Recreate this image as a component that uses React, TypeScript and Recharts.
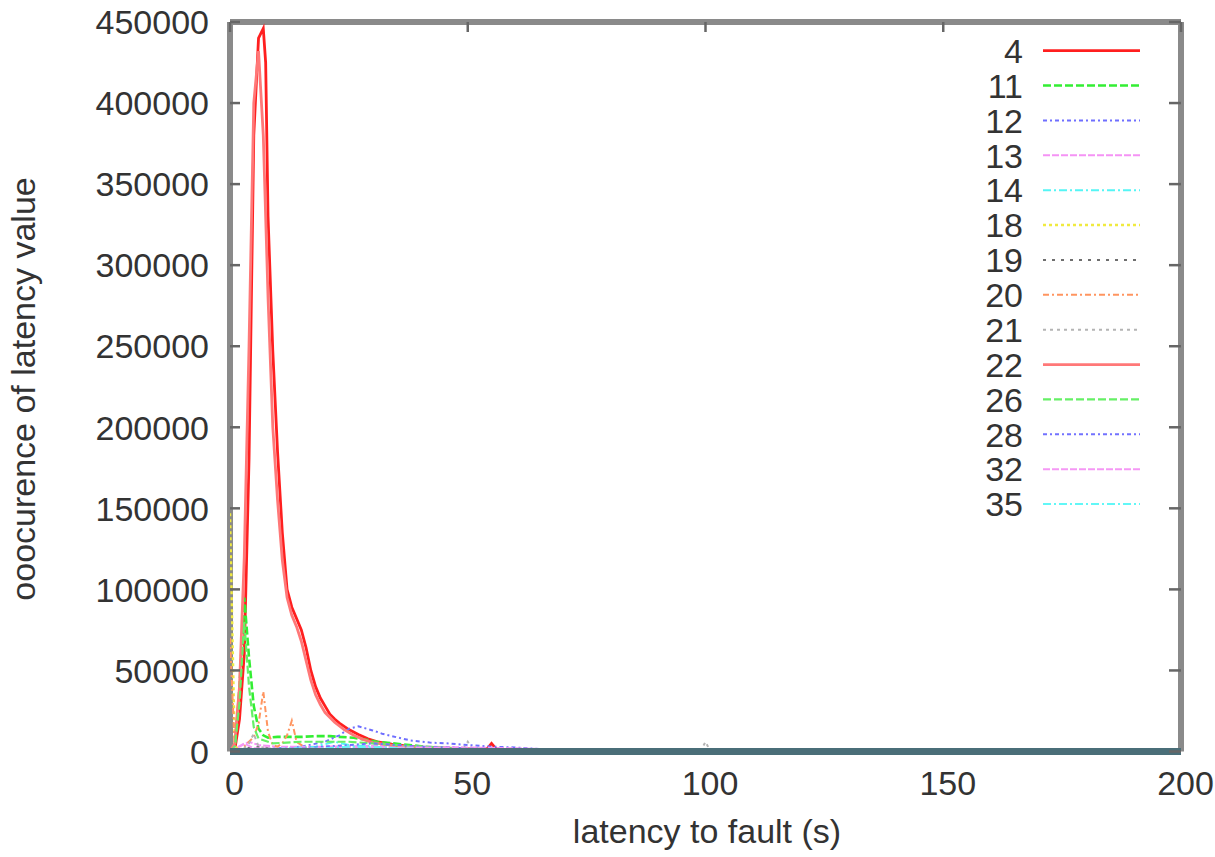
import { LineChart, Line, XAxis, YAxis, ReferenceLine } from 'recharts';

// latency (s) -> occurrence
const lat4: [number, number][] = [
  [0, 0], [1, 1000], [2, 20000], [3, 60000], [4, 180000], [5, 380000], [6, 440000], [7, 446000],
  [7.5, 425000], [8, 330000], [9, 247000], [10, 185000], [11, 135000], [12, 100000], [13, 89000],
  [14, 82000], [15, 75000], [16, 64000], [17, 50000], [18, 40000], [19, 33000], [20, 28000],
  [21, 23000], [22, 20000], [23, 17500], [25, 13500], [27, 10500], [29, 7800], [31, 6000],
  [34, 4500], [37, 3500], [41, 2500], [46, 2000], [51, 1500], [54, 1500], [55, 5000], [56, 1500],
  [60, 1000], [70, 500], [80, 200], [100, 100], [200, 0],
];
const lat11: [number, number][] = [
  [0, 0], [1, 1000], [2, 40000], [3, 95000], [4, 58000], [5, 28000], [6, 14000], [7, 10000],
  [8, 8500], [10, 9000], [12, 9000], [15, 9000], [18, 9500], [21, 9500], [23, 9000], [26, 8500],
  [29, 7000], [31, 6000], [36, 4500], [41, 3000], [46, 2000], [51, 1500], [60, 800], [70, 300],
  [80, 100], [200, 0],
];
const lat12: [number, number][] = [
  [0, 0], [5, 1000], [10, 2000], [15, 3000], [20, 6000], [23, 10000], [25, 14000], [27, 15500],
  [30, 13000], [32, 11000], [35, 8800], [38, 6800], [42, 5500], [46, 5000], [50, 4000],
  [55, 3000], [60, 2500], [65, 1500], [70, 800], [75, 300], [200, 0],
];
const lat13: [number, number][] = [
  [0, 0], [2, 3000], [4, 6000], [6, 4000], [10, 3000], [20, 3000], [30, 3500], [40, 3000],
  [50, 2500], [60, 2000], [65, 1500], [70, 500], [200, 0],
];
const lat14: [number, number][] = [
  [0, 0], [5, 1000], [10, 1500], [18, 3000], [22, 6000], [25, 4000], [30, 3000], [40, 2000],
  [50, 1000], [60, 500], [200, 0],
];
const lat18: [number, number][] = [
  [0, 147000], [1, 3000], [2, 1500], [5, 1000], [10, 800], [20, 600], [40, 400], [60, 200], [200, 0],
];
const lat19: [number, number][] = [
  [0, 0], [2, 1000], [5, 3000], [10, 1500], [20, 1000], [40, 800], [60, 300], [200, 0],
];
const lat20: [number, number][] = [
  [0, 70000], [1, 2000], [2, 1000], [3, 3000], [4, 6000], [5, 9000], [6, 17000], [7, 37000],
  [8, 12000], [9, 4000], [10, 3000], [11, 5000], [12, 10000], [13, 19000], [14, 6000], [16, 2000],
  [20, 1500], [30, 1000], [40, 800], [50, 500], [60, 200], [200, 0],
];
const lat21: [number, number][] = [
  [0, 0], [3, 2000], [4, 5000], [5, 11000], [6, 3000], [8, 2000], [10, 1000], [20, 1500],
  [30, 1500], [40, 1000], [49, 1000], [50, 6000], [51, 1000], [60, 500], [99, 300], [100, 6000],
  [101, 300], [200, 0],
];
const lat22: [number, number][] = [
  [0, 0], [1, 5000], [2, 40000], [3, 120000], [4, 250000], [5, 400000], [6, 432000], [7, 380000],
  [8, 280000], [9, 200000], [10, 155000], [11, 118000], [12, 95000], [13, 84000], [14, 77000],
  [15, 68000], [16, 56000], [17, 44000], [18, 35000], [19, 29000], [20, 24000], [22, 18000],
  [24, 13500], [26, 10000], [28, 7500], [30, 5500], [35, 3500], [40, 2500], [50, 1500],
  [60, 800], [70, 300], [100, 100], [200, 0],
];
const lat26: [number, number][] = [
  [0, 0], [1, 3000], [2, 30000], [3, 80000], [4, 40000], [5, 15000], [6, 8000], [9, 5000],
  [15, 6000], [25, 6000], [30, 5000], [40, 3000], [50, 1500], [60, 800], [80, 200], [200, 0],
];
const lat28: [number, number][] = [
  [0, 0], [10, 1000], [20, 3000], [30, 5000], [40, 3000], [50, 2000], [60, 1000], [70, 300], [200, 0],
];
const lat32: [number, number][] = [
  [0, 0], [3, 5000], [5, 2000], [10, 1500], [20, 2000], [30, 2500], [40, 2500], [50, 2000],
  [60, 1500], [70, 600], [200, 0],
];
const lat35: [number, number][] = [
  [0, 0], [10, 1000], [20, 2000], [25, 3000], [30, 2500], [40, 1500], [50, 800], [60, 300], [200, 0],
];

const X_TICKS = [0, 50, 100, 150, 200];
const Y_TICKS = [0, 50000, 100000, 150000, 200000, 250000, 300000, 350000, 400000, 450000];

const series = [
  { name: '4', points: lat4, color: '#ff1f1f', dash: undefined, width: 2.8 },
  { name: '11', points: lat11, color: '#33ee33', dash: '8 3', width: 2.6 },
  { name: '12', points: lat12, color: '#6f6fff', dash: '4 3 2 3', width: 2 },
  { name: '13', points: lat13, color: '#f593f5', dash: '7 2', width: 2 },
  { name: '14', points: lat14, color: '#55f5f5', dash: '8 3 2 3', width: 2 },
  { name: '18', points: lat18, color: '#f0ea40', dash: '3 3', width: 2.4 },
  { name: '19', points: lat19, color: '#6e6e6e', dash: '3 6', width: 2 },
  { name: '20', points: lat20, color: '#ff9560', dash: '6 3 2 3', width: 2 },
  { name: '21', points: lat21, color: '#b4b4b4', dash: '3 4', width: 2 },
  { name: '22', points: lat22, color: '#ff7878', dash: undefined, width: 2.8 },
  { name: '26', points: lat26, color: '#66f066', dash: '8 3', width: 2.2 },
  { name: '28', points: lat28, color: '#7272ff', dash: '4 3 2 3', width: 2 },
  { name: '32', points: lat32, color: '#f598f5', dash: '7 2', width: 2 },
  { name: '35', points: lat35, color: '#62f7f7', dash: '8 3 2 3', width: 2 },
];

const W = 1215;
const H = 857;
const PLOT_LEFT = 230;
const PLOT_RIGHT = 1181;
const PLOT_TOP = 22;
const PLOT_BOTTOM = 751.5;
const FONT = '"Liberation Sans", Arial, sans-serif';
const TEXT = '#333';
const FRAME = '#8a8a8a';

function YTick({ x, y, payload }: any) {
  return (
    <g>
      <text x={x} y={y} dy="0.36em" textAnchor="end" fontFamily={FONT} fontSize={34} fill={TEXT}>
        {payload.value}
      </text>
      <line x1={PLOT_LEFT} x2={PLOT_LEFT + 10} y1={y} y2={y} stroke="#666" strokeWidth={2.5} />
      <line x1={PLOT_RIGHT - 12} x2={PLOT_RIGHT} y1={y} y2={y} stroke="#666" strokeWidth={2.5} />
    </g>
  );
}

function XTick({ x, payload }: any) {
  return (
    <g>
      <text x={x + 4.5} y={795} textAnchor="middle" fontFamily={FONT} fontSize={34} fill={TEXT}>
        {payload.value}
      </text>
      <line x1={x} x2={x} y1={PLOT_TOP} y2={PLOT_TOP + 10} stroke="#666" strokeWidth={2.5} />
    </g>
  );
}

function KeyBox() {
  return (
    <svg width={200} height={540} style={{ position: 'absolute', left: 980, top: 0 }}>
      {series.map((s, i) => {
        const cy = 50.7 + i * 34.87;
        return (
          <g key={s.name}>
            <text x={43} y={cy} dy="0.36em" textAnchor="end" fontFamily={FONT} fontSize={34} fill={TEXT}>
              {s.name}
            </text>
            <line x1={63} x2={160} y1={cy} y2={cy} stroke={s.color} strokeWidth={s.width}
              strokeDasharray={s.dash} />
          </g>
        );
      })}
    </svg>
  );
}

export default function App() {
  return (
    <div style={{ position: 'absolute', left: 0, top: 0, width: W, height: H, background: '#fff' }}>
      <LineChart
        width={W}
        height={H}
        margin={{ top: PLOT_TOP, right: W - PLOT_RIGHT, bottom: 0, left: 0 }}
      >
        <XAxis
          dataKey="x"
          type="number"
          domain={[0, 200]}
          ticks={X_TICKS}
          interval={0}
          allowDataOverflow
          axisLine={false}
          tickLine={false}
          tickSize={0}
          tick={<XTick />}
          height={H - PLOT_BOTTOM}
        />
        <YAxis
          type="number"
          domain={[0, 450000]}
          ticks={Y_TICKS}
          interval={0}
          width={PLOT_LEFT}
          axisLine={false}
          tickLine={false}
          tickSize={0}
          tickMargin={21}
          tick={<YTick />}
          label={() => (
            <text transform="translate(35, 389) rotate(-90)" textAnchor="middle" fontFamily={FONT}
              fontSize={34} fill={TEXT}>
              ooocurence of latency value
            </text>
          )}
        />
        <ReferenceLine x={0} stroke={FRAME} strokeWidth={6} />
        <ReferenceLine x={200} stroke={FRAME} strokeWidth={6} />
        <ReferenceLine y={450000} stroke={FRAME} strokeWidth={6} />
        {series.map((s) => (
          <Line
            key={s.name}
            name={s.name}
            data={s.points.map(([x, y]) => ({ x, y }))}
            dataKey="y"
            type="linear"
            stroke={s.color}
            strokeWidth={s.width}
            strokeDasharray={s.dash}
            dot={false}
            activeDot={false}
            isAnimationActive={false}
          />
        ))}
        <ReferenceLine y={0} stroke="#4a6e78" strokeWidth={7} />
      </LineChart>
      <KeyBox />
      <svg width={W} height={44} style={{ position: 'absolute', left: 0, top: 813 }}>
        <text x={707} y={30} textAnchor="middle" fontFamily={FONT} fontSize={34} fill={TEXT}>
          latency to fault (s)
        </text>
      </svg>
    </div>
  );
}
